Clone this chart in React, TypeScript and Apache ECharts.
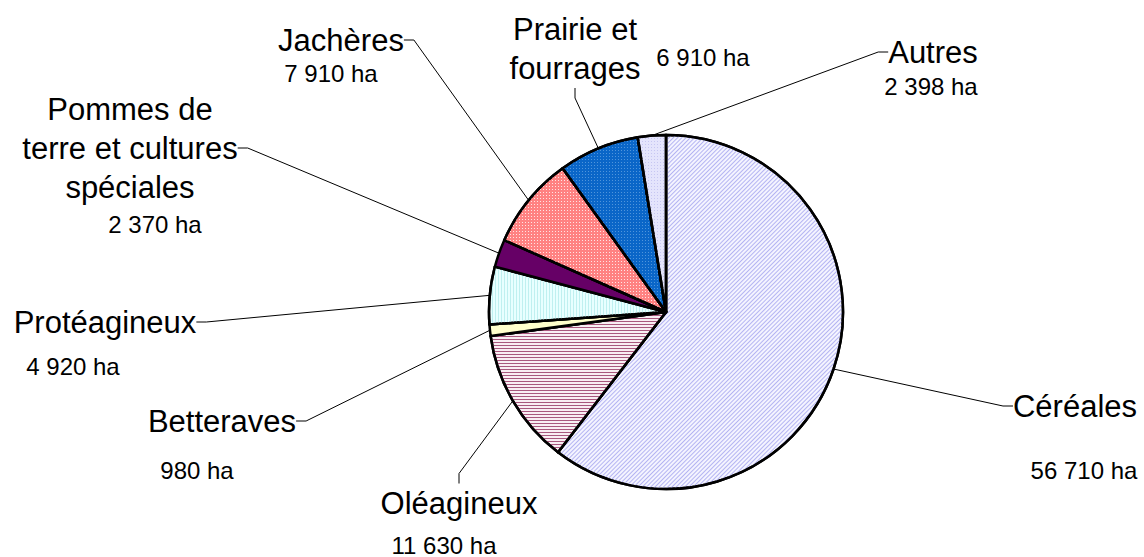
import { useEffect, useRef } from 'react';
import * as echarts from 'echarts';

const categories = [
  'Céréales',
  'Oléagineux',
  'Betteraves',
  'Protéagineux',
  'Pommes de\nterre et cultures\nspéciales',
  'Jachères',
  'Prairie et\nfourrages',
  'Autres',
];
const surfaces = [56710, 11630, 980, 4920, 2370, 7910, 6910, 2398];
const unit = 'ha';

const fills = ['#f4f4ff', '#f8eef3', '#ffffcc', '#e8ffff', '#660066', '#ff8282', '#0a66c8', '#e4e4fc'];
const decals: any[] = [
  { symbol: 'rect', symbolSize: 1, color: '#b4b4f2', dashArrayX: [1, 0], dashArrayY: [1, 2], rotation: -Math.PI / 4 },
  { symbol: 'rect', symbolSize: 1, color: '#a8587e', dashArrayX: [1, 0], dashArrayY: [1, 2], rotation: 0 },
  null,
  { symbol: 'rect', symbolSize: 1, color: '#bff0f0', dashArrayX: [1, 2], dashArrayY: [1, 0], rotation: 0 },
  null,
  { symbol: 'rect', symbolSize: 1, color: '#ffe4e4', dashArrayX: [1, 2], dashArrayY: [1, 2], rotation: 0 },
  { symbol: 'rect', symbolSize: 1, color: '#4f95dc', dashArrayX: [1, 2], dashArrayY: [1, 2], rotation: 0 },
  { symbol: 'rect', symbolSize: 1, color: '#c6c6f2', dashArrayX: [1, 2], dashArrayY: [1, 2], rotation: 0 },
];

// label layout (centres of the name and value texts, in px)
const nameSpots = [[1075, 406], [459, 503], [222, 421], [105, 322], [130, 148], [341, 40], [575, 49], [933, 52]];
const valueSpots = [[1084, 470], [444, 545], [197, 470], [73, 366], [155, 224], [331, 73], [703, 57], [931, 86]];

const fontFamily = 'Arial, "Liberation Sans", Helvetica, sans-serif';

function fmt(v: number) {
  return String(v).replace(/\B(?=(\d{3})+(?!\d))/g, ' ') + ' ' + unit;
}

export default function App() {
  const ref = useRef<HTMLDivElement>(null);
  useEffect(() => {
    if (!ref.current) return;
    const chart = echarts.init(ref.current, null, { renderer: 'svg' });
    const data = categories.map((name, i) => ({
      name,
      value: surfaces[i],
      itemStyle: { color: fills[i], decal: decals[i] || undefined },
    }));
    const common = {
      type: 'pie',
      center: [666, 312],
      radius: 177,
      startAngle: 90,
      clockwise: true,
      avoidLabelOverlap: false,
      minShowLabelAngle: 0,
      animation: false,
      emphasis: { disabled: true },
    };
    chart.setOption({
      animation: false,
      backgroundColor: '#ffffff',
      series: [
        {
          ...common,
          data,
          itemStyle: { borderColor: '#000', borderWidth: 2.5 },
          label: {
            show: true,
            position: 'outside',
            formatter: (p: any) => p.name,
            color: '#000',
            fontFamily,
            fontSize: 31,
            lineHeight: 39,
            align: 'center',
          },
          labelLine: {
            show: true,
            length: 10,
            length2: 10,
            smooth: false,
            lineStyle: { color: '#000', width: 1 },
          },
          labelLayout: (p: any) => ({
            x: nameSpots[p.dataIndex][0],
            y: nameSpots[p.dataIndex][1],
            align: 'center',
            verticalAlign: 'middle',
          }),
        },
        {
          ...common,
          silent: true,
          data: categories.map((name, i) => ({ name, value: surfaces[i] })),
          itemStyle: { color: 'rgba(0,0,0,0)', borderWidth: 0 },
          label: {
            show: true,
            position: 'outside',
            formatter: (p: any) => fmt(p.value),
            color: '#000',
            fontFamily,
            fontSize: 24,
          },
          labelLine: { show: false },
          labelLayout: (p: any) => ({
            x: valueSpots[p.dataIndex][0],
            y: valueSpots[p.dataIndex][1],
            align: 'center',
            verticalAlign: 'middle',
          }),
        },
      ],
    });
    return () => chart.dispose();
  }, []);
  return (
    <div
      ref={ref}
      style={{ position: 'fixed', left: 0, top: 0, width: 1144, height: 557 }}
    />
  );
}
